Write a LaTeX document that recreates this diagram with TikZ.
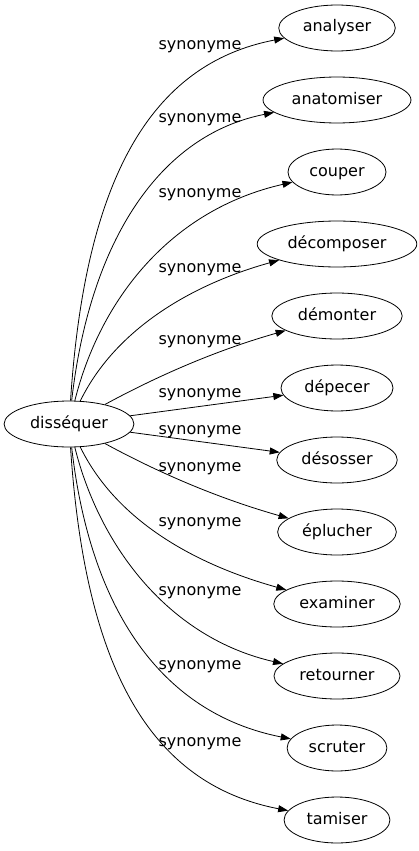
\documentclass[tikz,border=0pt]{standalone}
\usepackage{fontspec}
\setmainfont{DejaVu Sans}
\usetikzlibrary{arrows.meta,shapes.geometric}

\begin{document}
\begin{tikzpicture}[x=1pt,y=-1pt,
  word/.style={ellipse,draw,line width=0.8pt,inner xsep=7pt,inner ysep=8.25pt,
    text height=12pt,text depth=4pt,font=\fontsize{16}{19}\selectfont},
  syn/.style={line width=0.8pt,-{Triangle[length=10pt,width=7pt]}},
  lab/.style={anchor=base,inner sep=0pt,font=\fontsize{16}{19}\selectfont}]
\useasboundingbox (0,0) rectangle (419,851);

% source word
\node[word] (dis) at (69,424) {disséquer};

% synonyms
\node[word] (analyser) at (337,28) {analyser};
\node[word] (anatomiser) at (337,100) {anatomiser};
\node[word] (couper) at (337,172) {couper};
\node[word] (decomposer) at (337,244) {décomposer};
\node[word] (demonter) at (337,316) {démonter};
\node[word] (depecer) at (337,388) {dépecer};
\node[word] (desosser) at (337,460) {désosser};
\node[word] (eplucher) at (337,532) {éplucher};
\node[word] (examiner) at (337,604) {examiner};
\node[word] (retourner) at (337,676) {retourner};
\node[word] (scruter) at (337,748) {scruter};
\node[word] (tamiser) at (337,820) {tamiser};

% edges
\draw[syn] (dis) .. controls (85,180) and (150,64) .. (analyser);
\draw[syn] (dis) .. controls (90,240) and (160,135) .. (anatomiser);
\draw[syn] (dis) .. controls (100,300) and (170,210) .. (couper);
\draw[syn] (dis) .. controls (115,330) and (190,285) .. (decomposer);
\draw[syn] (dis) .. controls (150,380) and (210,352) .. (demonter);
\draw[syn] (dis) -- (depecer);
\draw[syn] (dis) -- (desosser);
\draw[syn] (dis) .. controls (150,468) and (210,496) .. (eplucher);
\draw[syn] (dis) .. controls (115,518) and (190,563) .. (examiner);
\draw[syn] (dis) .. controls (100,548) and (170,638) .. (retourner);
\draw[syn] (dis) .. controls (90,608) and (160,713) .. (scruter);
\draw[syn] (dis) .. controls (85,668) and (150,784) .. (tamiser);

% edge labels
\node[lab] (l1) at (200,49.5) {synonyme};
\node[lab] (l2) at (200,122.5) {synonyme};
\node[lab] (l3) at (200,197.5) {synonyme};
\node[lab] (l4) at (200,272.5) {synonyme};
\node[lab] (l5) at (200,344.5) {synonyme};
\node[lab] (l6) at (200,397.5) {synonyme};
\node[lab] (l7) at (200,434.5) {synonyme};
\node[lab] (l8) at (200,471) {synonyme};
\node[lab] (l9) at (200,526) {synonyme};
\node[lab] (l10) at (200,595) {synonyme};
\node[lab] (l11) at (200,669) {synonyme};
\node[lab] (l12) at (200,746.5) {synonyme};
\end{tikzpicture}
\end{document}
